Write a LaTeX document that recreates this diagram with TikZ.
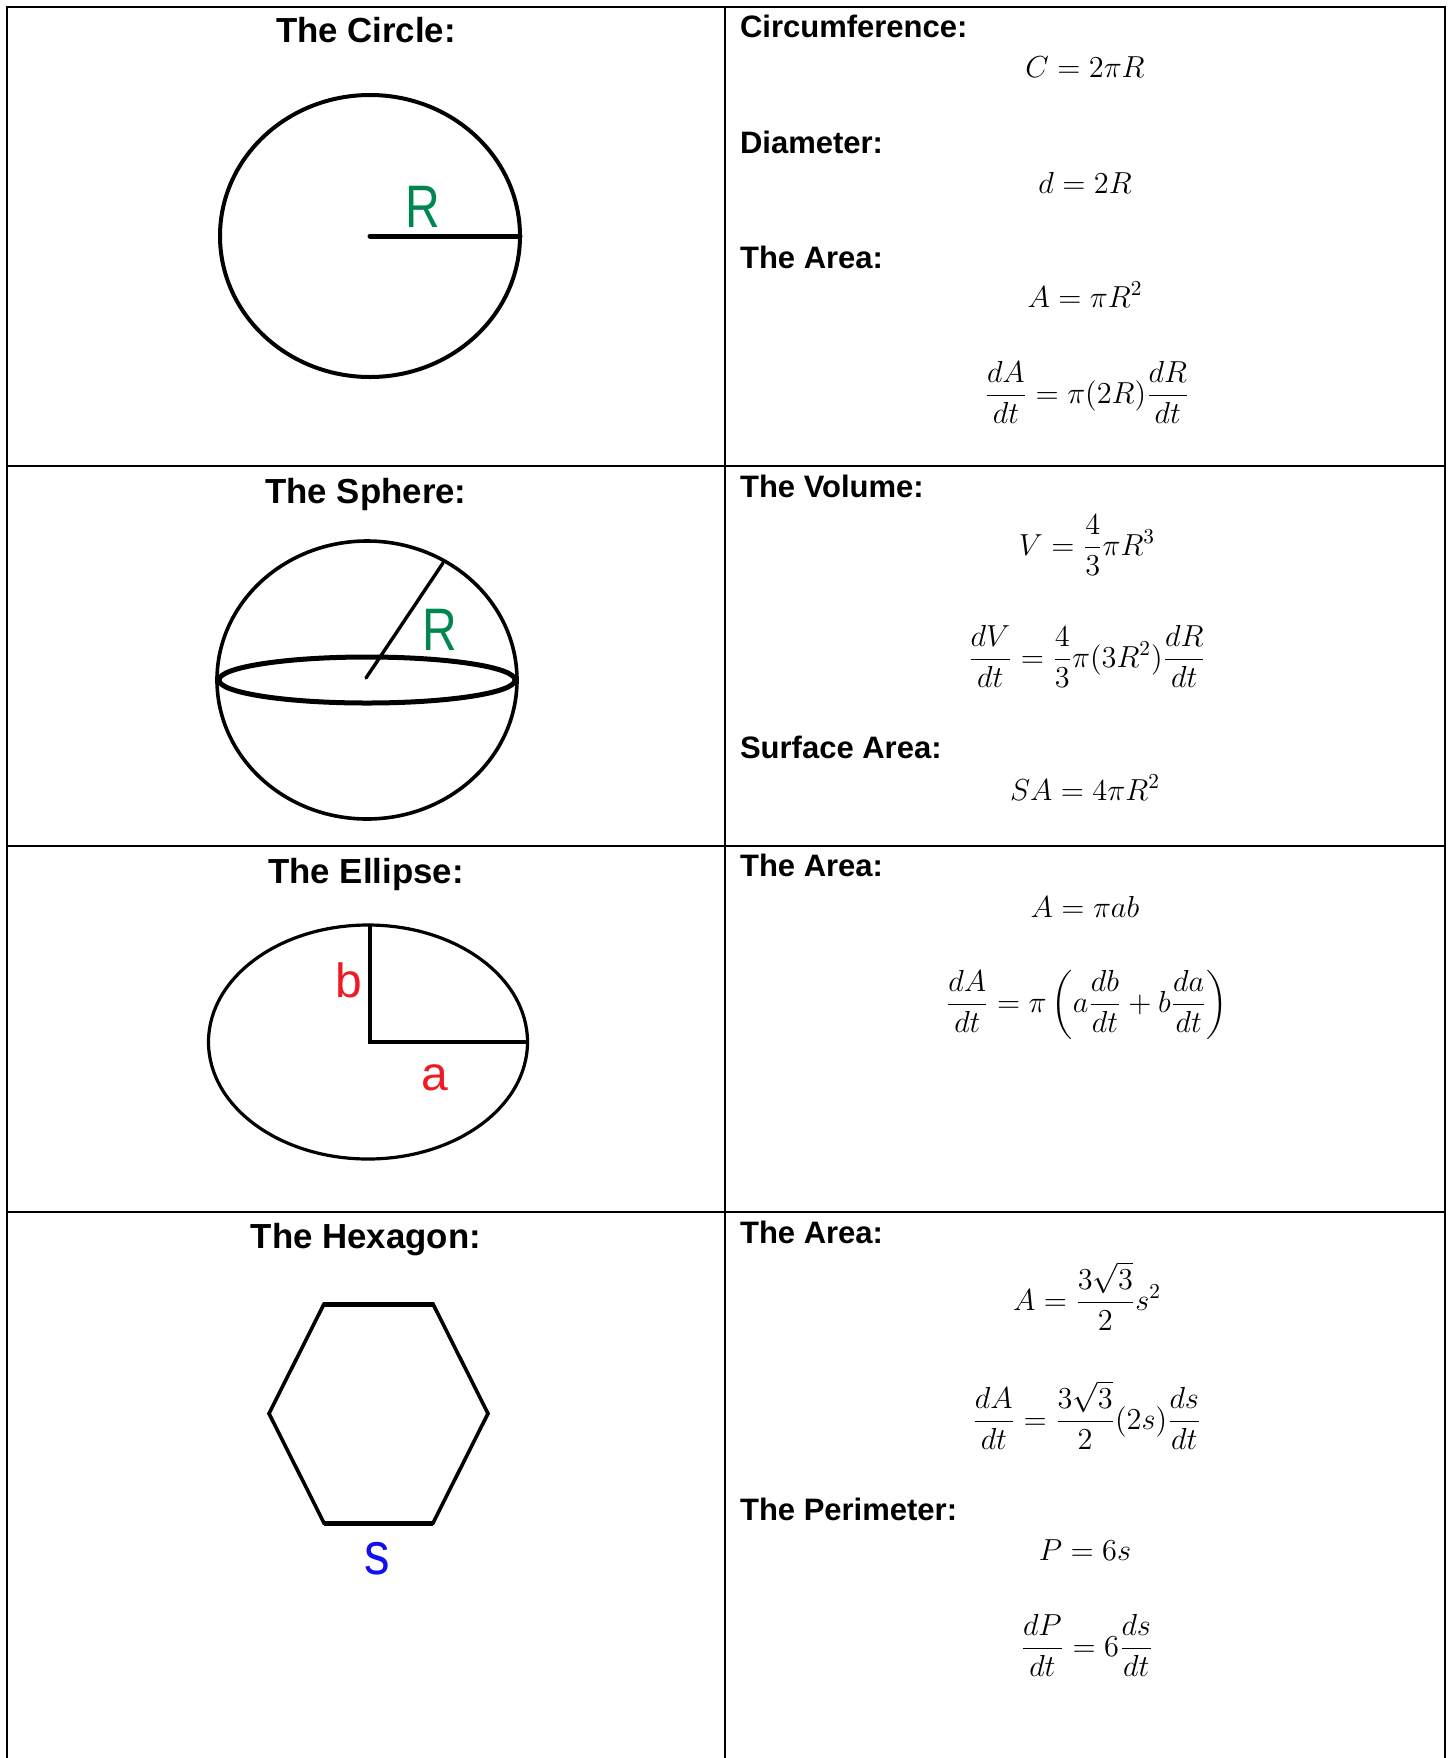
\documentclass[tikz,border=0pt]{standalone}
\usepackage{fontspec}
\usepackage{amsmath}
\usepackage{fix-cm}
\setmainfont{Liberation Sans}
\newfontfamily\handfont{Liberation Sans}
\definecolor{rgreen}{RGB}{0,135,80}
\definecolor{lred}{RGB}{237,28,36}
\definecolor{sblue}{RGB}{16,16,240}
\begin{document}
\begin{tikzpicture}[x=0.5pt,y=-0.5pt,
  grid/.style={line width=1.3pt},
  shapeline/.style={line width=1.8pt},
  lefthead/.style={anchor=base,font=\fontsize{17.4}{20}\selectfont\bfseries},
  righthead/.style={anchor=base west,font=\fontsize{15.5}{18}\selectfont\bfseries},
  eqn/.style={anchor=base,inner sep=0pt,font=\fontsize{15.2}{18}\selectfont},
  hand/.style={anchor=base,inner sep=0pt}]
\useasboundingbox (0,0) rectangle (1452,1758);
% table grid
\draw[grid] (7,1758) -- (7,7) -- (1445,7) -- (1445,1758);
\draw[grid] (725,7) -- (725,1758);
\draw[grid] (7,466) -- (1445,466);
\draw[grid] (7,846) -- (1445,846);
\draw[grid] (7,1212) -- (1445,1212);
% left headings
\node[lefthead] (hcircle) at (366,42) {The Circle:};
\node[lefthead] (hsphere) at (366,503) {The Sphere:};
\node[lefthead] (hellipse) at (366,883) {The Ellipse:};
\node[lefthead] (hhex) at (366,1248) {The Hexagon:};
% right headings
\node[righthead] (hcirc) at (733,37) {Circumference:};
\node[righthead] (hdiam) at (733,153) {Diameter:};
\node[righthead] (harea1) at (733,268) {The Area:};
\node[righthead] (hvol) at (733,497) {The Volume:};
\node[righthead] (hsa) at (733,758) {Surface Area:};
\node[righthead] (harea2) at (733,876) {The Area:};
\node[righthead] (harea3) at (733,1243) {The Area:};
\node[righthead] (hper) at (733,1520) {The Perimeter:};
% equations
\node[eqn] (e1) at (1085,77) {$C = 2\pi R$};
\node[eqn] (e2) at (1085,193) {$d = 2R$};
\node[eqn] (e3) at (1085,307) {$A = \pi R^2$};
\node[eqn] (e4) at (1087,403) {$\dfrac{dA}{dt} = \pi(2R)\dfrac{dR}{dt}$};
\node[eqn] (e5) at (1087,555) {$V = \dfrac{4}{3}\pi R^3$};
\node[eqn] (e6) at (1087,667) {$\dfrac{dV}{dt} = \dfrac{4}{3}\pi(3R^2)\dfrac{dR}{dt}$};
\node[eqn] (e7) at (1085,800) {$SA = 4\pi R^2$};
\node[eqn] (e8) at (1085,917) {$A = \pi ab$};
\node[eqn] (e9) at (1087,1012) {$\dfrac{dA}{dt} = \pi\left(a\dfrac{db}{dt} + b\dfrac{da}{dt}\right)$};
\node[eqn] (e10) at (1087,1310) {$A = \dfrac{3\sqrt{3}}{2}s^2$};
\node[eqn] (e11) at (1087,1429) {$\dfrac{dA}{dt} = \dfrac{3\sqrt{3}}{2}(2s)\dfrac{ds}{dt}$};
\node[eqn] (e12) at (1085,1560) {$P = 6s$};
\node[eqn] (e13) at (1087,1656) {$\dfrac{dP}{dt} = 6\dfrac{ds}{dt}$};
% circle
\draw[line width=2pt] (370,236) ellipse [x radius=150, y radius=141];
\coordinate (cc) at (370,236);
\coordinate (ce) at (520,236);
\draw[line width=2.5pt, line cap=round] (cc) -- (ce);
\node[hand, text=rgreen, font=\handfont\fontsize{30}{30}\selectfont] (rc) at (423,227) {\scalebox{0.8}[1]{R}};
% sphere
\draw[line width=1.8pt] (367,680) ellipse [x radius=150, y radius=139];
\draw[line width=2.5pt] (367,680) ellipse [x radius=148, y radius=23];
\coordinate (sc) at (366,678);
\coordinate (se) at (443,563);
\draw[line width=1.7pt, line cap=round] (sc) -- (se);
\node[hand, text=rgreen, font=\handfont\fontsize{30}{30}\selectfont] (rs) at (440,650) {\scalebox{0.8}[1]{R}};
% ellipse
\draw[line width=1.6pt] (368,1042) ellipse [x radius=159.5, y radius=117];
\coordinate (et) at (370,925);
\coordinate (ec) at (370,1042);
\coordinate (er) at (527,1042);
\draw[line width=1.8pt] (et) -- (ec) -- (er);
\node[hand, text=lred, font=\handfont\fontsize{24}{24}\selectfont] (lb) at (349,997) {b};
\node[hand, text=lred, font=\handfont\fontsize{24}{24}\selectfont] (la) at (435,1090) {a};
% hexagon
\coordinate (h1) at (324,1304);
\coordinate (h2) at (433,1304);
\coordinate (h3) at (488,1413.5);
\coordinate (h4) at (433,1523);
\coordinate (h5) at (324,1523);
\coordinate (h6) at (269,1413.5);
\draw[shapeline] (h1) -- (h2) -- (h3) -- (h4) -- (h5) -- (h6) -- cycle;
\draw[line width=2.5pt] (h1) -- (h2);
\draw[line width=2.5pt] (h4) -- (h5);
\node[hand, text=sblue, font=\handfont\fontsize{30}{30}\selectfont] (ls) at (377,1574) {\scalebox{0.85}[1]{s}};
\end{tikzpicture}
\end{document}
